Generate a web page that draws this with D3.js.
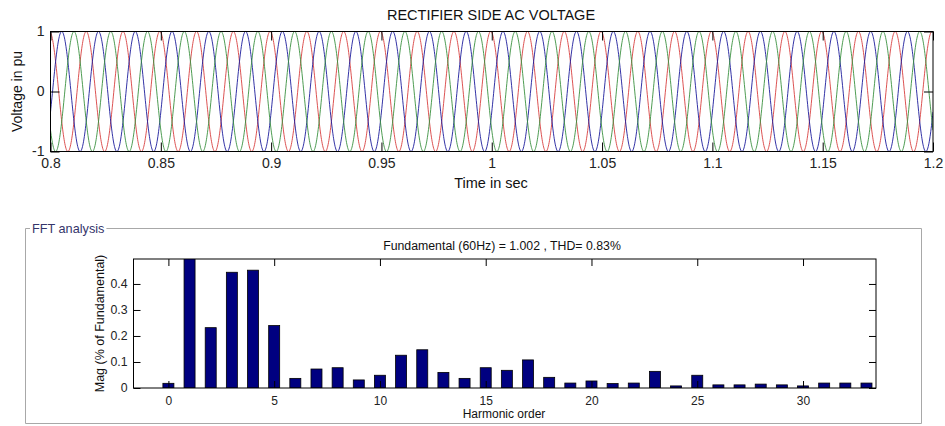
<!DOCTYPE html>
<html>
<head>
<meta charset="utf-8">
<script src="https://cdn.jsdelivr.net/npm/d3@7"></script>
<style>
    body { margin: 0; background: #fff; }
    svg { display: block; font-family: "Liberation Sans", Arial, sans-serif; }
    .axis text { fill: #222; }
    .axis path { display: none; }
    .axis line { stroke: #000; }
</style>
</head>
<body>
<svg id="chart" width="945" height="426"></svg>
<script>
// Top plot: three phase voltages (60 Hz, 1 pu), phase = angle of the first peak after t = 0.8 s
const timeRange = [0.8, 1.2];
const timeTicks = [0.8, 0.85, 0.9, 0.95, 1, 1.05, 1.1, 1.15, 1.2];
const voltTicks = [-1, 0, 1];
const phaseFreqHz = [60, 60, 60];
const phaseAmplitude = [1, 1, 1];
const phasePeakDeg = [-10, 110, 230];
const phaseColors = ['#d8403f', '#1c1c9c', '#3a913f'];

// Bottom plot: harmonic spectrum (% of fundamental)
const harmonicOrders = [0, 1, 2, 3, 4, 5, 6, 7, 8, 9, 10, 11, 12, 13, 14, 15, 16,
    17, 18, 19, 20, 21, 22, 23, 24, 25, 26, 27, 28, 29, 30, 31, 32, 33];
const harmonicMags = [0.018, 100, 0.232, 0.445, 0.453, 0.240, 0.037, 0.073, 0.078,
    0.031, 0.049, 0.126, 0.147, 0.060, 0.037, 0.078, 0.068, 0.108, 0.041, 0.019,
    0.027, 0.017, 0.019, 0.064, 0.008, 0.049, 0.012, 0.012, 0.015, 0.012, 0.008,
    0.019, 0.019, 0.019];
const harmonicTicks = [0, 5, 10, 15, 20, 25, 30];
const magTicks = [0, 0.1, 0.2, 0.3, 0.4];

const svg = d3.select('#chart');
const defs = svg.append('defs');

// ---------- top plot ----------
const topBox = { left: 50.5, right: 933, top: 31.5, bottom: 151.5 };
const xT = d3.scaleLinear().domain(timeRange).range([topBox.left, topBox.right]);
const yT = d3.scaleLinear().domain([-1, 1]).range([topBox.bottom, topBox.top]);

defs.append('clipPath').attr('id', 'clipTop')
    .append('rect')
    .attr('x', topBox.left).attr('y', topBox.top - 1)
    .attr('width', topBox.right - topBox.left).attr('height', topBox.bottom - topBox.top + 2);

const samples = d3.range(0, 2401).map(i => timeRange[0] + (timeRange[1] - timeRange[0]) * i / 2400);
const line = d3.line().x(d => xT(d[0])).y(d => yT(d[1]));

phasePeakDeg.forEach((ph, k) => {
    const pts = samples.map(t => [t,
        phaseAmplitude[k] * Math.cos(2 * Math.PI * phaseFreqHz[k] * (t - timeRange[0]) - ph * Math.PI / 180)]);
    svg.append('path')
        .attr('clip-path', 'url(#clipTop)')
        .attr('d', line(pts))
        .attr('fill', 'none')
        .attr('stroke', phaseColors[k])
        .attr('stroke-width', 0.9);
});

svg.append('g').attr('class', 'axis')
    .attr('transform', `translate(0,${topBox.bottom})`)
    .call(d3.axisBottom(xT).tickValues(timeTicks).tickSize(-9).tickPadding(7)
        .tickFormat(d => String(d)))
    .selectAll('text').style('font-size', '14px').attr('dy', '0.71em');
svg.append('g').attr('class', 'axis')
    .attr('transform', `translate(0,${topBox.top})`)
    .call(d3.axisTop(xT).tickValues(timeTicks).tickSize(-9).tickFormat(''));
svg.append('g').attr('class', 'axis')
    .attr('transform', `translate(${topBox.left},0)`)
    .call(d3.axisLeft(yT).tickValues(voltTicks).tickSize(-9).tickPadding(6)
        .tickFormat(d => String(d)))
    .selectAll('text').style('font-size', '14px');
svg.append('g').attr('class', 'axis')
    .attr('transform', `translate(${topBox.right},0)`)
    .call(d3.axisRight(yT).tickValues(voltTicks).tickSize(-9).tickFormat(''));

svg.append('rect')
    .attr('x', topBox.left).attr('y', topBox.top)
    .attr('width', topBox.right - topBox.left).attr('height', topBox.bottom - topBox.top)
    .attr('fill', 'none').attr('stroke', '#000');

svg.append('text').attr('x', 491).attr('y', 19.5)
    .attr('text-anchor', 'middle').style('font-size', '14.5px').attr('fill', '#111')
    .text('RECTIFIER SIDE AC VOLTAGE');
svg.append('text').attr('x', 491).attr('y', 188)
    .attr('text-anchor', 'middle').style('font-size', '14.5px').attr('fill', '#111')
    .text('Time in sec');
svg.append('text')
    .attr('transform', `translate(22,${(topBox.top + topBox.bottom) / 2}) rotate(-90)`)
    .attr('text-anchor', 'middle').style('font-size', '14px').attr('fill', '#111')
    .text('Voltage in pu');

// ---------- FFT panel frame ----------
const frame = { left: 25.5, right: 921.5, top: 228.5, bottom: 423.5 };
const panelTitle = svg.append('text')
    .attr('x', 32).attr('y', 232.5)
    .style('font-size', '12.7px').attr('fill', '#35356b')
    .text('FFT analysis');
const tw = panelTitle.node().getComputedTextLength();
svg.append('path')
    .attr('d', `M${30},${frame.top} H${frame.left} V${frame.bottom} H${frame.right} V${frame.top} H${32 + tw + 2}`)
    .attr('fill', 'none').attr('stroke', '#a8a8a8');

// ---------- bottom plot ----------
const botBox = { left: 133.5, right: 876, top: 259, bottom: 388 };
const xB = d3.scaleLinear().domain([-1.65, 33.45]).range([botBox.left, botBox.right]);
const yB = d3.scaleLinear().domain([0, 0.496]).range([botBox.bottom, botBox.top]);
const barW = 0.52;

defs.append('clipPath').attr('id', 'clipBot')
    .append('rect')
    .attr('x', botBox.left).attr('y', botBox.top)
    .attr('width', botBox.right - botBox.left).attr('height', botBox.bottom - botBox.top);

svg.append('g').attr('clip-path', 'url(#clipBot)')
    .selectAll('rect')
    .data(harmonicOrders)
    .enter()
    .append('rect')
    .attr('x', (d) => xB(d - barW / 2))
    .attr('width', xB(barW) - xB(0))
    .attr('y', (d, i) => yB(harmonicMags[i]))
    .attr('height', (d, i) => yB(0) - yB(harmonicMags[i]))
    .attr('fill', '#000080')
    .attr('stroke', '#000')
    .attr('stroke-width', 0.8);

svg.append('g').attr('class', 'axis')
    .attr('transform', `translate(0,${botBox.bottom})`)
    .call(d3.axisBottom(xB).tickValues(harmonicTicks).tickSize(-7).tickPadding(8))
    .selectAll('text').style('font-size', '12px').attr('dy', '0.71em');
svg.append('g').attr('class', 'axis')
    .attr('transform', `translate(0,${botBox.top})`)
    .call(d3.axisTop(xB).tickValues(harmonicTicks).tickSize(-7).tickFormat(''));
svg.append('g').attr('class', 'axis')
    .attr('transform', `translate(${botBox.left},0)`)
    .call(d3.axisLeft(yB).tickValues(magTicks).tickSize(-7).tickPadding(6)
        .tickFormat(d => d === 0 ? '0' : d3.format('.1f')(d)))
    .selectAll('text').style('font-size', '12.3px');
svg.append('g').attr('class', 'axis')
    .attr('transform', `translate(${botBox.right},0)`)
    .call(d3.axisRight(yB).tickValues(magTicks).tickSize(-7).tickFormat(''));

svg.append('rect')
    .attr('x', botBox.left).attr('y', botBox.top)
    .attr('width', botBox.right - botBox.left).attr('height', botBox.bottom - botBox.top)
    .attr('fill', 'none').attr('stroke', '#000');

svg.append('text').attr('x', 502).attr('y', 250)
    .attr('text-anchor', 'middle').style('font-size', '12.3px').attr('fill', '#111')
    .text('Fundamental (60Hz) = 1.002 , THD= 0.83%');
svg.append('text').attr('x', 504).attr('y', 418)
    .attr('text-anchor', 'middle').style('font-size', '12px').attr('fill', '#111')
    .text('Harmonic order');
svg.append('text')
    .attr('transform', `translate(104,${(botBox.top + botBox.bottom) / 2}) rotate(-90)`)
    .attr('text-anchor', 'middle').style('font-size', '12.5px').attr('fill', '#111')
    .text('Mag (% of Fundamental)');
</script>
</body>
</html>
